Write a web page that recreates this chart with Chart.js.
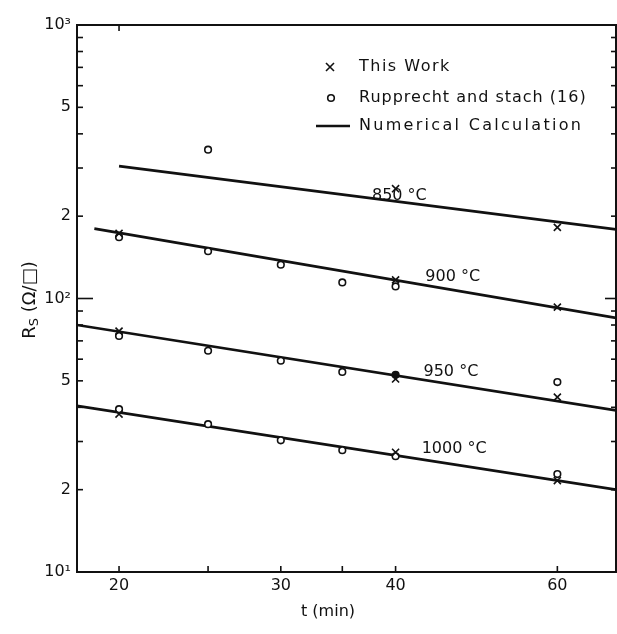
<!DOCTYPE html>
<html><head><meta charset="utf-8">
<script src="https://cdn.jsdelivr.net/npm/chart.js@4/dist/chart.umd.min.js"></script>
<style>html,body{margin:0;padding:0;background:#fff}#wrap{width:617px;height:634px;position:relative}</style>
</head><body><div id="wrap"><canvas id="c" width="617" height="634"></canvas></div>
<script>
// ---- data ----
const tempLabels = ['850 °C', '900 °C', '950 °C', '1000 °C'];
const calcStartT = [20, 18.8, 18, 18];
const calcStartR = [305, 180, 80, 40.5];
const calcEndT = [69.5, 69.5, 69.5, 69.5];
const calcEndR = [179, 85, 39, 20];
const workT = [40, 60, 20, 40, 60, 20, 40, 60, 20, 40, 60];
const workR = [252, 182, 173, 117, 93, 76, 50.8, 43.6, 37.8, 27.4, 21.6];
const ruppT = [25, 20, 25, 30, 35, 40, 20, 25, 30, 35, 40, 60, 20, 25, 30, 35, 40, 60];
const ruppR = [350, 167.5, 149, 133, 114.5, 110.7, 73, 64.4, 59.2, 53.9, 52.6, 49.5, 39.4, 34.7, 30.3, 27.9, 26.5, 22.8];
const ruppFilled = [0, 0, 0, 0, 0, 0, 0, 0, 0, 0, 1, 0, 0, 0, 0, 0, 0, 0];
const labelT = [37.7, 43.1, 42.9, 42.7];
const labelR = [237, 120.5, 53.9, 28.3];
const xTicks = [20, 30, 40, 60];
const xMinorTicks = [20, 25, 30, 35, 40, 60];
const yTicks = [10, 20, 50, 100, 200, 500, 1000];
const yTickLabels = ['10¹', '2', '5', '10²', '2', '5', '10³'];
const legendLabels = ['This Work', 'Rupprecht and stach (16)', 'Numerical Calculation'];

const FONT = '"DejaVu Sans", sans-serif';
const INK = '#111';

const datasets = [];
datasets.push({
  label: legendLabels[0], type: 'scatter',
  data: workT.map((t, i) => ({x: t, y: workR[i]})),
  pointStyle: 'crossRot', pointRadius: 5, borderColor: INK, borderWidth: 1.6, backgroundColor: INK
});
datasets.push({
  label: legendLabels[1], type: 'scatter',
  data: ruppT.map((t, i) => ({x: t, y: ruppR[i]})),
  pointStyle: 'circle', pointRadius: 3.3, borderColor: INK, borderWidth: 1.6,
  backgroundColor: ruppFilled.map(f => f ? INK : '#fff')
});
tempLabels.forEach((lab, i) => {
  datasets.push({
    label: i === 0 ? legendLabels[2] : legendLabels[2] + ' ' + lab, type: 'line',
    data: [{x: calcStartT[i], y: calcStartR[i]}, {x: calcEndT[i], y: calcEndR[i]}],
    borderColor: INK, borderWidth: 2.7, pointRadius: 0, fill: false, tension: 0
  });
});

const decor = {
  id: 'decor',
  afterDraw(chart) {
    const {ctx, chartArea: a, scales} = chart;
    const xs = scales.x, ys = scales.y;
    ctx.save();
    ctx.strokeStyle = INK; ctx.fillStyle = INK;
    // frame
    ctx.lineWidth = 2;
    ctx.strokeRect(a.left, a.top, a.right - a.left, a.bottom - a.top);
    // y ticks (inward)
    ctx.lineWidth = 1.6;
    [10, 100].forEach(d => {
      for (let k = 1; k <= 9; k++) {
        const v = k * d; const y = ys.getPixelForValue(v);
        const L = k === 1 ? 16 : 6;
        ctx.beginPath(); ctx.moveTo(a.left, y); ctx.lineTo(a.left + L, y); ctx.stroke();
        const R = k === 1 ? 11 : 5;
        ctx.beginPath(); ctx.moveTo(a.right, y); ctx.lineTo(a.right - R, y); ctx.stroke();
      }
    });
    // x ticks (inward)
    xMinorTicks.forEach(t => {
      const x = xs.getPixelForValue(t);
      ctx.beginPath(); ctx.moveTo(x, a.bottom); ctx.lineTo(x, a.bottom - 6); ctx.stroke();
    });
    { const x = xs.getPixelForValue(xTicks[0]);
      ctx.beginPath(); ctx.moveTo(x, a.top); ctx.lineTo(x, a.top + 6); ctx.stroke(); }
    // temperature labels
    ctx.font = '16px ' + FONT; ctx.textAlign = 'left'; ctx.textBaseline = 'middle';
    tempLabels.forEach((lab, i) => {
      ctx.fillText(lab, xs.getPixelForValue(labelT[i]), ys.getPixelForValue(labelR[i]));
    });
    // legend
    const lx = 330, ly = [67, 98, 126], tx = 359, sp = ['1.5px', '1px', '2.3px'];
    ctx.font = '16px ' + FONT;
    for (let i = 0; i < 3; i++) {
      ctx.letterSpacing = sp[i];
      ctx.fillText(chart.data.datasets[i].label, tx, ly[i]);
    }
    ctx.letterSpacing = '0px';
    ctx.lineWidth = 1.6;
    ctx.beginPath(); ctx.moveTo(lx - 4, ly[0] - 4); ctx.lineTo(lx + 4, ly[0] + 4);
    ctx.moveTo(lx + 4, ly[0] - 4); ctx.lineTo(lx - 4, ly[0] + 4); ctx.stroke();
    ctx.beginPath(); ctx.arc(lx + 1, ly[1], 3.3, 0, Math.PI * 2); ctx.stroke();
    ctx.lineWidth = 2.7;
    ctx.beginPath(); ctx.moveTo(316, ly[2]); ctx.lineTo(350, ly[2]); ctx.stroke();
    // axis titles
    ctx.font = '16px ' + FONT; ctx.textAlign = 'center';
    ctx.fillText('t (min)', 328, 612);
    ctx.translate(30, 300); ctx.rotate(-Math.PI / 2);
    ctx.textAlign = 'left';
    const f1 = '18px ' + FONT, f2 = '13px ' + FONT;
    ctx.font = f1; const wR = ctx.measureText('R').width;
    ctx.font = f2; const wS = ctx.measureText('S').width;
    ctx.font = f1; const rest = ' (Ω/□)'; const wRest = ctx.measureText(rest).width;
    let x0 = -(wR + wS + wRest) / 2;
    ctx.fillText('R', x0, 0); x0 += wR;
    ctx.font = f2; ctx.fillText('S', x0, 5); x0 += wS;
    ctx.font = f1; ctx.fillText(rest, x0, 0);
    ctx.restore();
  }
};

new Chart(document.getElementById('c'), {
  type: 'scatter',
  data: {datasets},
  options: {
    responsive: false, animation: false, devicePixelRatio: 1,
    layout: {autoPadding: false, padding: {top: 25, right: 1, left: 0, bottom: 0}},
    plugins: {legend: {display: false}, tooltip: {enabled: false}, title: {display: false}},
    scales: {
      x: {
        type: 'logarithmic', min: 18, max: 69.5,
        grid: {display: false, drawTicks: false}, border: {display: false},
        afterBuildTicks: s => { s.ticks = xTicks.map(v => ({value: v})); },
        afterFit: s => { s.height = 62; s.paddingLeft = 0; s.paddingRight = 0; },
        ticks: {color: INK, font: {family: FONT, size: 16}, padding: 4, autoSkip: false, maxRotation: 0,
          callback: v => String(v)}
      },
      y: {
        type: 'logarithmic', min: 10, max: 1000,
        grid: {display: false, drawTicks: false}, border: {display: false},
        afterBuildTicks: s => { s.ticks = yTicks.map(v => ({value: v})); },
        afterFit: s => { s.width = 77; s.paddingTop = 0; s.paddingBottom = 0; },
        ticks: {color: INK, font: {family: FONT, size: 16}, padding: 6, autoSkip: false,
          callback: v => yTickLabels[yTicks.indexOf(v)]}
      }
    }
  },
  plugins: [decor]
});
</script>
</body></html>
